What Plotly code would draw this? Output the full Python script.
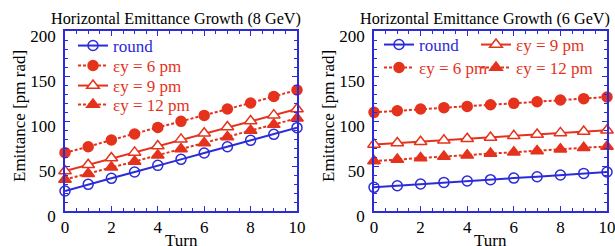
import plotly.graph_objects as go

turn = list(range(11))

# 8 GeV
round_8 = [22.2, 29.6, 36.3, 43.3, 50.7, 57.4, 64.4, 71.4, 78.5, 85.2, 92.6]
ey6_8 = [64.8, 71.4, 78.9, 85.5, 92.9, 99.6, 106.2, 113.3, 120.0, 127.3, 134.4]
ey9_8 = [44.5, 51.4, 58.8, 65.1, 72.2, 79.6, 86.3, 93.3, 100.0, 106.5, 113.3]
ey12_8 = [35.0, 41.5, 48.5, 55.0, 62.0, 68.8, 75.5, 82.2, 89.4, 96.0, 103.0]

# 6 GeV
round_6 = [26.3, 28.1, 30.0, 31.8, 33.3, 34.8, 36.6, 38.1, 40.0, 41.8, 43.3]
ey6_6 = [109.6, 111.4, 113.3, 114.8, 116.2, 118.1, 119.6, 121.4, 123.3, 124.8, 126.7]
ey9_6 = [74.0, 75.5, 77.0, 78.5, 80.2, 81.7, 83.5, 85.0, 86.8, 88.3, 89.8]
ey12_6 = [55.5, 57.3, 59.0, 60.6, 62.0, 63.8, 65.3, 66.8, 68.6, 70.3, 71.8]

names = ["round", "εy = 6 pm", "εy = 9 pm", "εy = 12 pm"]
xtick_vals = [0, 2, 4, 6, 8, 10]
ytick_vals = [0, 50, 100, 150, 200]

BLUE = "#2b2bd9"
RED = "#e5321c"
FONT = "Liberation Serif"

styles = [
    dict(color=BLUE, dash="solid", symbol="circle-open", size=10, mfill=BLUE, mline=BLUE),
    dict(color=RED, dash="3px,2px", symbol="circle", size=10, mfill=RED, mline=RED),
    dict(color=RED, dash="solid", symbol="triangle-up", size=11, mfill="white", mline=RED),
    dict(color=RED, dash="3px,2px", symbol="triangle-up", size=11, mfill=RED, mline=RED),
]

fig = go.Figure()

panels = [
    ("x", "y", [round_8, ey6_8, ey9_8, ey12_8]),
    ("x2", "y2", [round_6, ey6_6, ey9_6, ey12_6]),
]

W, H = 615, 246
# legend anchor positions in pixels (left edge, vertical centre)
leg_pos = [
    [(73, 46), (73, 66), (73, 86), (73, 105)],
    [(379, 45), (379, 68), (476, 45), (476, 68)],
]

legend_layouts = {}
k = 0
for p, (xa, ya, series) in enumerate(panels):
    for i, vals in enumerate(series):
        st = styles[i]
        k += 1
        lname = "legend" if k == 1 else f"legend{k}"
        fig.add_trace(go.Scatter(
            x=turn, y=vals, xaxis=xa, yaxis=ya, name=names[i],
            mode="lines+markers", cliponaxis=False, legend=lname,
            line=dict(color=st["color"], width=2, dash=st["dash"]),
            marker=dict(symbol=st["symbol"], size=st["size"], color=st["mfill"],
                        line=dict(color=st["mline"], width=1.5)),
        ))
        px, py = leg_pos[p][i]
        legend_layouts[lname] = dict(
            x=px / W, y=1 - py / H, xanchor="left", yanchor="middle",
            bgcolor="rgba(0,0,0,0)", borderwidth=0,
            font=dict(family=FONT, size=17, color=st["color"]),
            itemwidth=30, tracegroupgap=0,
        )

axis_common = dict(
    showline=True, linecolor=BLUE, linewidth=1.5, mirror="ticks",
    ticks="inside", tickcolor=BLUE, ticklen=5, tickwidth=1,
    showgrid=False, zeroline=False, automargin=False,
    tickfont=dict(family=FONT, size=17, color="black"),
    ticklabeloverflow="allow",
)

x0a, x1a = 65 / W, 297 / W
x0b, x1b = 374 / W, 607 / W
y0, y1 = 1 - 211 / H, 1 - 31 / H

xminor = dict(dtick=0.5, ticks="inside", ticklen=3, tickcolor=BLUE)
yminor = dict(dtick=10, ticks="inside", ticklen=3, tickcolor=BLUE)

fig.update_layout(
    width=W, height=H, margin=dict(l=0, r=0, t=0, b=0, pad=0, autoexpand=False),
    paper_bgcolor="white", plot_bgcolor="white",
    xaxis=dict(domain=[x0a, x1a], range=[0, 10], tickvals=xtick_vals, anchor="y",
               ticklabelstandoff=0, minor=xminor, **axis_common),
    yaxis=dict(domain=[y0, y1], range=[0, 200], tickvals=ytick_vals, anchor="x",
               ticklabelstandoff=4, ticklabelshift=5, minor=yminor, **axis_common),
    xaxis2=dict(domain=[x0b, x1b], range=[0, 10], tickvals=xtick_vals, anchor="y2",
                ticklabelstandoff=0, minor=xminor, **axis_common),
    yaxis2=dict(domain=[y0, y1], range=[0, 200], tickvals=ytick_vals, anchor="x2",
                ticklabelstandoff=4, ticklabelshift=5, minor=yminor, **axis_common),
    showlegend=True,
    **legend_layouts,
)

title_font = dict(family=FONT, size=16.2, color="black")
label_font = dict(family=FONT, size=17, color="black")
for cx, txt in [(176 / W, "Horizontal Emittance Growth (8 GeV)"),
                (485 / W, "Horizontal Emittance Growth (6 GeV)")]:
    fig.add_annotation(x=cx, y=1 - 8 / H, xref="paper", yref="paper", text=txt,
                       showarrow=False, font=title_font, xanchor="center", yanchor="top")
for cx in [(x0a + x1a) / 2, (x0b + x1b) / 2]:
    fig.add_annotation(x=cx, y=1 - 229 / H, xref="paper", yref="paper", text="Turn",
                       showarrow=False, font=label_font, xanchor="center", yanchor="top")
for cx in [19 / W, 328 / W]:
    fig.add_annotation(x=cx, y=1 - 116 / H, xref="paper", yref="paper",
                       text="Emittance [pm rad]", textangle=-90,
                       showarrow=False, font=label_font, xanchor="center", yanchor="middle")

fig.write_html("out.html", config={"displayModeBar": False},
               post_script="document.body.style.margin='0px';document.body.style.overflow='hidden';")
